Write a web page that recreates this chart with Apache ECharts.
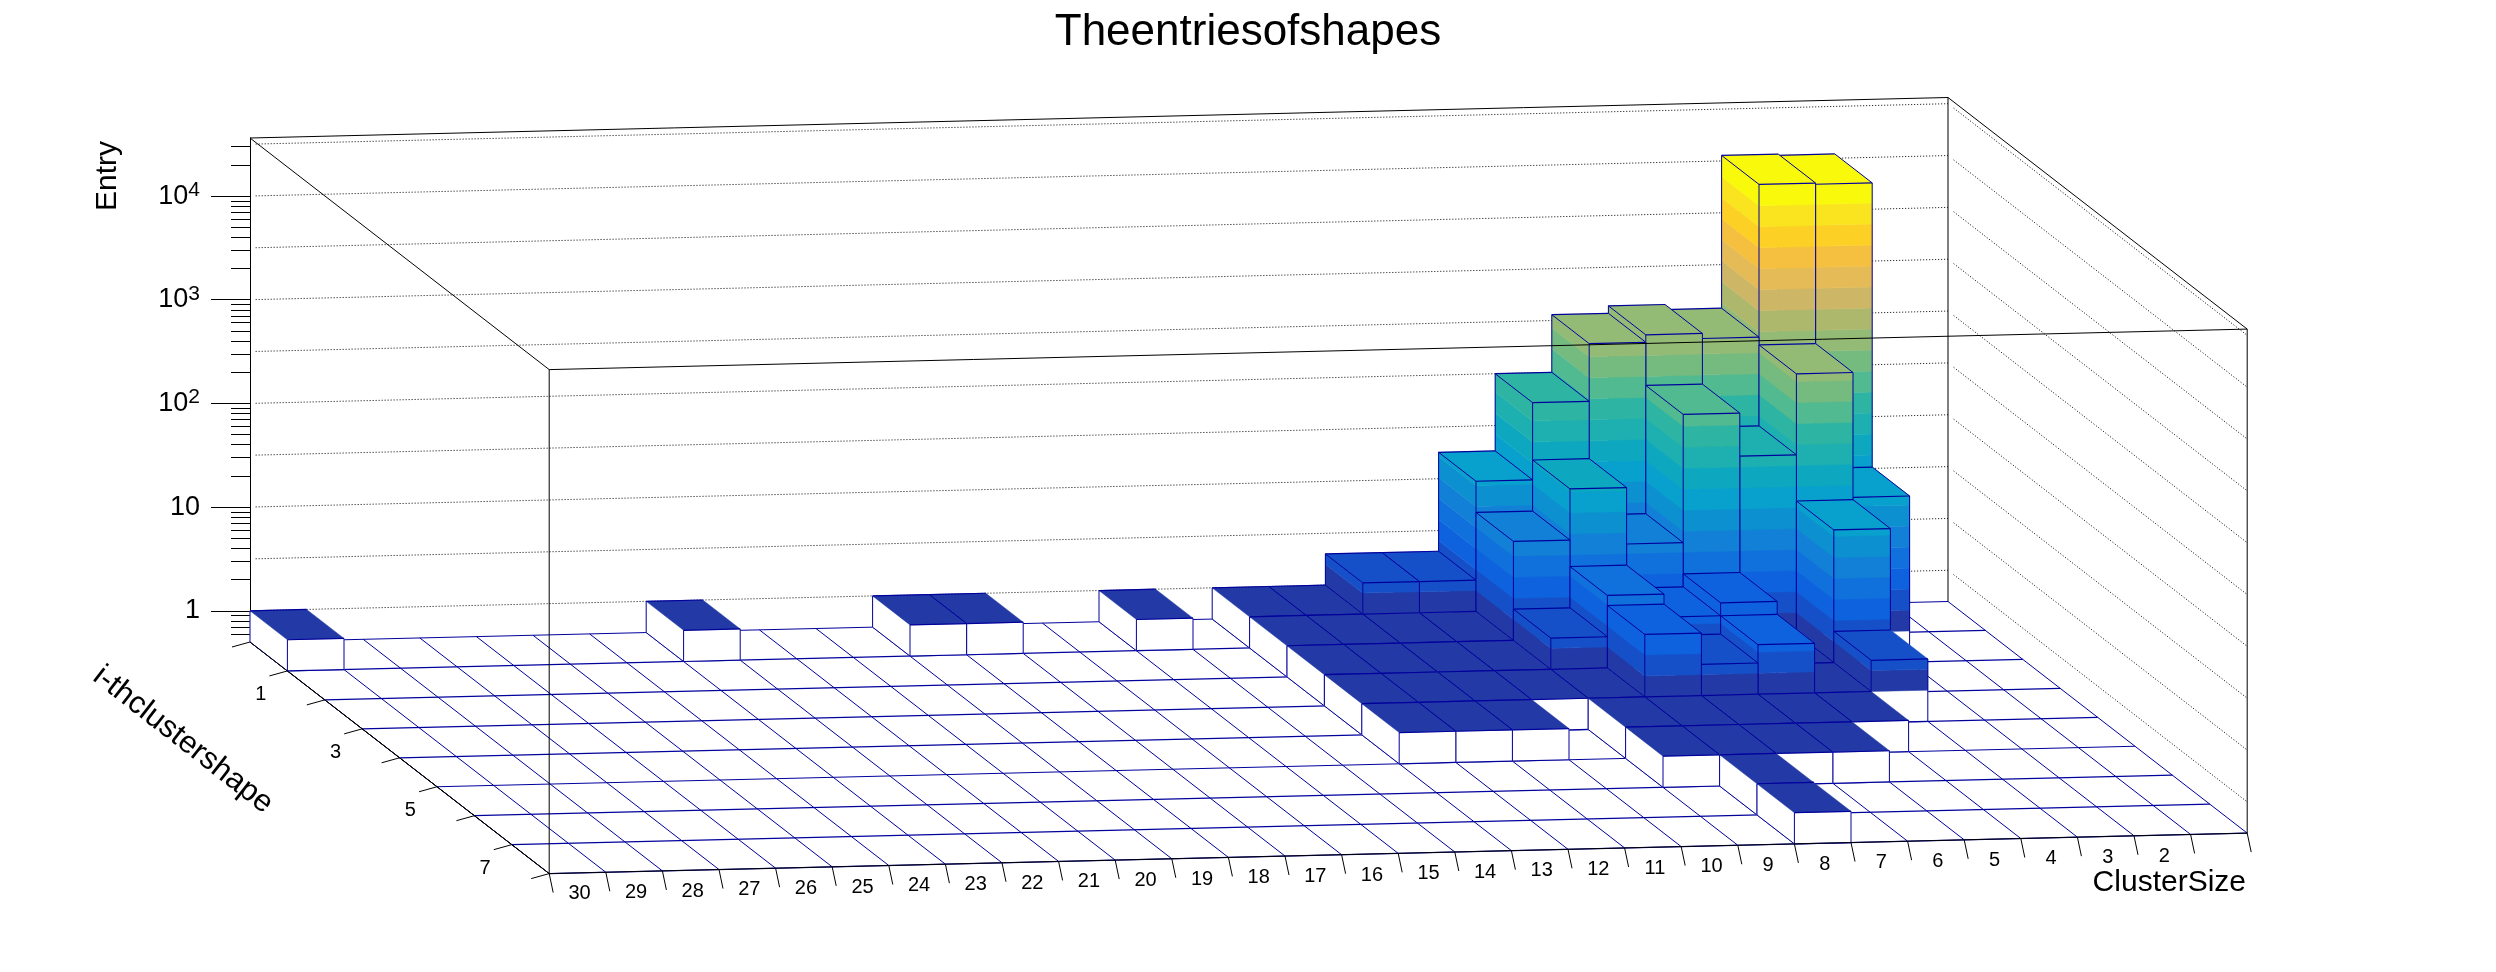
<!DOCTYPE html>
<html>
<head>
<meta charset="utf-8">
<title>The entries of shapes</title>
<style>
  html, body { margin: 0; padding: 0; background: #fff; }
  #chart { width: 2496px; height: 972px; }
</style>
<script src="https://cdn.jsdelivr.net/npm/echarts@6/dist/echarts.min.js"></script>
</head>
<body>
<div id="chart"></div>
<script>
// bins are listed from cluster size 30 (left) down to 1 (right)
const clusterSizeLabels = [30, 29, 28, 27, 26, 25, 24, 23, 22, 21, 20, 19, 18, 17, 16, 15, 14, 13, 12, 11, 10, 9, 8, 7, 6, 5, 4, 3, 2]
const shapeLabels = [1, 3, 5, 7]
const entriesShape1 = [1, 0, 0, 0, 0, 0, 0, 1, 0, 0, 0, 1, 1, 0, 0, 1, 0, 1, 1, 2, 2, 18, 100, 360, 425, 380, 11300, 11000, 0, 0]
const entriesShape2 = [0, 0, 0, 0, 0, 0, 0, 0, 0, 0, 0, 0, 0, 0, 0, 0, 0, 1, 1, 1, 1, 9, 28, 8, 138, 53, 320, 20, 0, 0]
const entriesShape3 = [0, 0, 0, 0, 0, 0, 0, 0, 0, 0, 0, 0, 0, 0, 0, 0, 0, 1, 1, 1, 1, 2, 5, 3, 4, 1, 19, 0, 0, 0]
const entriesShape4 = [0, 0, 0, 0, 0, 0, 0, 0, 0, 0, 0, 0, 0, 0, 0, 0, 0, 1, 1, 1, 1, 1, 4, 2, 3, 1, 2, 0, 0, 0]
const entriesShape5 = [0, 0, 0, 0, 0, 0, 0, 0, 0, 0, 0, 0, 0, 0, 0, 0, 0, 1, 1, 1, 0, 1, 1, 1, 1, 1, 0, 0, 0, 0]
const entriesShape6 = [0, 0, 0, 0, 0, 0, 0, 0, 0, 0, 0, 0, 0, 0, 0, 0, 0, 0, 0, 0, 0, 1, 1, 1, 1, 0, 0, 0, 0, 0]
const entriesShape7 = [0, 0, 0, 0, 0, 0, 0, 0, 0, 0, 0, 0, 0, 0, 0, 0, 0, 0, 0, 0, 0, 0, 1, 0, 0, 0, 0, 0, 0, 0]
const entriesShape8 = [0, 0, 0, 0, 0, 0, 0, 0, 0, 0, 0, 0, 0, 0, 0, 0, 0, 0, 0, 0, 0, 0, 1, 0, 0, 0, 0, 0, 0, 0]
const entriesByShape = [entriesShape1, entriesShape2, entriesShape3, entriesShape4, entriesShape5, entriesShape6, entriesShape7, entriesShape8]

const zMajorTicks = [1, 10, 100, 1000, 10000]
const zMinorTicks = [0.6, 0.7, 0.8, 0.9, 2, 3, 4, 5, 6, 7, 8, 9, 20, 30, 40, 50, 60, 70, 80, 90, 200, 300, 400, 500, 600, 700, 800, 900, 2000, 3000, 4000, 5000, 6000, 7000, 8000, 9000, 20000, 30000]
const zGridLogs = [0, 0.5, 1, 1.5, 2, 2.5, 3, 3.5, 4, 4.5]
const bandColors = ['#233aa6', '#1650c8', '#0f62de', '#1070dc', '#1280d6', '#0d90d0', '#08a0cc', '#0da8c0', '#1eb0b0', '#2eb4a2', '#52ba91', '#75bb80', '#94bb75', '#aeb86c', '#cdb666', '#e4bb57', '#f5c040', '#fdd026', '#f9e41f', '#f9f90c']

const Z_MIN = 0.5
const Z_MAX = 36300
const BAND_STEP = 0.2025
const SHAPE_COUNT = 8
const BLUE = '#00009c'
const FONT = '"Liberation Sans"'

// oblique view: each shape bin moves the point right/down, each size bin tilts it up
const DEPTH_DX = 37.4
const DEPTH_DY = 28.95
const TILT = -1.35

const chart = echarts.init(document.getElementById('chart'))

function makeProject(api) {
  return (edge, shapeEdge, z) => {
    const p = api.coord([edge, z])
    return [p[0] + shapeEdge * DEPTH_DX, p[1] + shapeEdge * DEPTH_DY + edge * TILT]
  }
}

const line = (points, stroke, lineWidth, lineDash) => ({
  type: 'polyline',
  silent: true,
  shape: { points },
  style: { stroke, lineWidth: lineWidth || 1, fill: null, lineDash: lineDash || null }
})
const poly = (points, fill) => ({
  type: 'polygon',
  silent: true,
  shape: { points },
  style: { fill, stroke: fill, lineWidth: 0.5 }
})
const label = (x, y, text, size) => ({
  type: 'text',
  silent: true,
  x,
  y,
  style: { text: String(text), fill: '#000', font: size + 'px ' + FONT, align: 'center', verticalAlign: 'middle' }
})

// walls, floor grid: behind the bars
function renderBack(params, api) {
  const P = makeProject(api)
  const children = []
  zGridLogs.forEach(l => {
    const z = Math.pow(10, l)
    children.push(line([P(0.1, 0, z), P(30, 0, z)], '#000', 1, [1, 2]))
    children.push(line([P(30, 0.15, z), P(30, SHAPE_COUNT, z)], '#000', 1, [1, 2]))
  })
  for (let s = 0; s <= SHAPE_COUNT; s++) {
    children.push(line([P(0, s, Z_MIN), P(30, s, Z_MIN)], BLUE, 1.2))
  }
  for (let e = 0; e <= 30; e++) {
    children.push(line([P(e, 0, Z_MIN), P(e, SHAPE_COUNT, Z_MIN)], BLUE, 1))
  }
  children.push(line([P(0, 0, Z_MAX), P(30, 0, Z_MAX)], '#000'))
  children.push(line([P(0, 0, Z_MAX), P(0, SHAPE_COUNT, Z_MAX)], '#000'))
  children.push(line([P(30, 0, Z_MAX), P(30, SHAPE_COUNT, Z_MAX)], '#000'))
  children.push(line([P(30, 0, Z_MIN), P(30, 0, Z_MAX)], '#000'))
  children.push(line([P(0, 0, Z_MIN), P(0, SHAPE_COUNT, Z_MIN)], '#000'))
  return { type: 'group', children }
}

// one lego column; data comes in painter order
function renderBar(params, api) {
  const P = makeProject(api)
  const xc = api.value(0)
  const row = api.value(1)
  const v = api.value(2)
  const e0 = xc
  const e1 = xc + 1
  const s0 = row
  const s1 = row + 1
  const topLog = Math.log10(v)
  const entries = entriesByShape[row]
  const leftN = xc > 0 ? entries[xc - 1] : 0
  const rightN = xc < 29 ? entries[xc + 1] : 0
  const children = []

  const side = (a, b) => {
    const quad = (z0, z1, fill) => poly([P(a[0], a[1], z0), P(b[0], b[1], z0), P(b[0], b[1], z1), P(a[0], a[1], z1)], fill)
    children.push(quad(Z_MIN, 1, '#fff'))
    for (let k = 0; k < bandColors.length && k * BAND_STEP < topLog; k++) {
      const hi = Math.min((k + 1) * BAND_STEP, topLog)
      const top = k === bandColors.length - 1 ? topLog : hi
      children.push(quad(Math.pow(10, k * BAND_STEP), Math.pow(10, top), bandColors[k]))
    }
  }
  side([e0, s0], [e0, s1])
  side([e0, s1], [e1, s1])

  const topBand = Math.min(Math.floor(topLog / BAND_STEP), bandColors.length - 1)
  children.push(poly([P(e0, s0, v), P(e1, s0, v), P(e1, s1, v), P(e0, s1, v)], bandColors[topBand]))

  children.push(line([P(e0, s1, Z_MIN), P(e0, s1, v)], BLUE))
  children.push(line([P(e1, s1, Z_MIN), P(e1, s1, v)], BLUE))
  children.push(line([P(e0, s0, Z_MIN), P(e0, s0, v)], BLUE))
  children.push(line([P(e0, s1, Z_MIN), P(e1, s1, Z_MIN)], BLUE, 1.2))
  children.push(line([P(e0, s0, Z_MIN), P(e0, s1, Z_MIN)], BLUE))
  children.push(line([P(e0, s0, v), P(e1, s0, v)], BLUE, 1.2))
  children.push(line([P(e0, s1, v), P(e1, s1, v)], BLUE, 1.2))
  if (v > 1 || leftN > 0) children.push(line([P(e0, s0, v), P(e0, s1, v)], BLUE))
  if (v > 3 || rightN > 0) children.push(line([P(e1, s0, v), P(e1, s1, v)], BLUE))
  return { type: 'group', children }
}

// front frame and the tilted axes
function renderFront(params, api) {
  const P = makeProject(api)
  const S = SHAPE_COUNT
  const children = [
    line([P(0, S, Z_MIN), P(0, S, Z_MAX)], '#000'),
    line([P(0, S, Z_MAX), P(30, S, Z_MAX)], '#000'),
    line([P(30, S, Z_MIN), P(30, S, Z_MAX)], '#000'),
    line([P(0, S, Z_MIN), P(30, S, Z_MIN)], '#000'),
    line([P(0, 0, Z_MIN), P(0, S, Z_MIN)], '#000')
  ]
  for (let e = 0; e <= 30; e++) {
    const p = P(e, S, Z_MIN)
    children.push(line([p, [p[0] + 4, p[1] + 19]], '#000'))
  }
  clusterSizeLabels.forEach((size, i) => {
    const p = P(i + 0.5, S, Z_MIN)
    children.push(label(p[0] + 2, p[1] + 21, size, 20))
  })
  for (let s = 0; s <= S; s++) {
    const p = P(0, s, Z_MIN)
    children.push(line([p, [p[0] - 18, p[1] + 5]], '#000'))
  }
  shapeLabels.forEach(shape => {
    const p = P(0, shape - 0.5, Z_MIN)
    children.push(label(p[0] - 8, p[1] + 38, shape, 20))
  })
  return { type: 'group', children }
}

// painter order: back rows first, right to left inside a row
const barData = []
entriesByShape.forEach((entries, row) => {
  for (let xc = entries.length - 1; xc >= 0; xc--) {
    if (entries[xc] > 0) barData.push([xc, row, entries[xc]])
  }
})

const customBase = { type: 'custom', coordinateSystem: 'cartesian2d', silent: true, clip: false, animation: false }

chart.setOption({
  animation: false,
  backgroundColor: '#fff',
  title: {
    text: 'Theentriesofshapes',
    left: 1243,
    top: 6,
    textAlign: 'center',
    textStyle: { color: '#000', fontFamily: FONT, fontWeight: 'normal', fontSize: 44 }
  },
  grid: { left: 250, top: 138, width: 1698, height: 504, show: false },
  xAxis: { type: 'value', min: 0, max: 30, show: false },
  yAxis: [
    {
      type: 'log',
      position: 'left',
      min: Z_MIN,
      max: Z_MAX,
      splitLine: { show: false },
      axisLine: { show: true, onZero: false, lineStyle: { color: '#000', width: 1 } },
      axisTick: { show: true, length: 39, customValues: zMajorTicks, lineStyle: { color: '#000' } },
      axisLabel: {
        show: true,
        margin: 50,
        customValues: zMajorTicks,
        color: '#000',
        fontFamily: FONT,
        fontSize: 27,
        formatter: v => {
          const e = Math.round(Math.log10(v))
          if (e === 0) return '1'
          if (e === 1) return '10'
          return '10{sup|' + e + '}'
        },
        rich: { sup: { fontSize: 21, fontFamily: FONT, color: '#000', verticalAlign: 'top', padding: [0, 0, 12, 0] } }
      }
    },
    {
      type: 'log',
      position: 'left',
      min: Z_MIN,
      max: Z_MAX,
      splitLine: { show: false },
      axisLine: { show: false },
      axisTick: { show: true, length: 19, customValues: zMinorTicks, lineStyle: { color: '#000' } },
      axisLabel: { show: false }
    }
  ],
  graphic: [
    { type: 'text', silent: true, x: 2246, y: 883, style: { text: 'ClusterSize', font: '30px ' + FONT, fill: '#000', align: 'right', verticalAlign: 'middle' } },
    { type: 'text', silent: true, x: 108, y: 176, rotation: Math.PI / 2, style: { text: 'Entry', font: '30px ' + FONT, fill: '#000', align: 'center', verticalAlign: 'middle' } },
    { type: 'text', silent: true, x: 183, y: 740, rotation: -38 * Math.PI / 180, style: { text: 'i-thclustershape', font: '31px ' + FONT, fill: '#000', align: 'center', verticalAlign: 'middle' } }
  ],
  series: [
    Object.assign({}, customBase, { name: 'back', z: 2, renderItem: renderBack, data: [[0, 1]], encode: { x: 0, y: 1 } }),
    Object.assign({}, customBase, { name: 'entries', z: 3, renderItem: renderBar, data: barData, encode: { x: 0, y: 2 } }),
    Object.assign({}, customBase, { name: 'front', z: 4, renderItem: renderFront, data: [[0, 1]], encode: { x: 0, y: 1 } })
  ]
})
</script>
</body>
</html>
